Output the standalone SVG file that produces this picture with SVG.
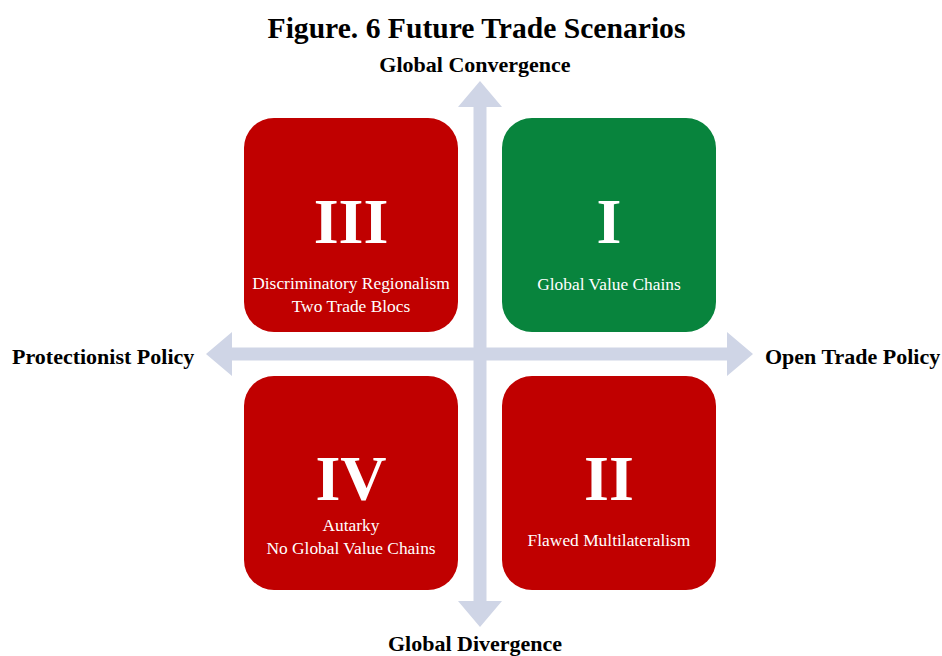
<svg xmlns="http://www.w3.org/2000/svg" width="942" height="656" viewBox="0 0 942 656">
  <style>
    .bold { font-family: "Liberation Serif", "Times New Roman", serif; font-weight: bold; fill: #000000; }
    .axis { font-size: 22px; }
    .box { stroke: none; }
    .red { fill: #C00000; }
    .green { fill: #08843D; }
    .num { font-family: "Liberation Serif", "Times New Roman", serif; font-weight: bold; font-size: 64px; fill: #FFFFFF; text-anchor: middle; }
    .desc { font-family: "Liberation Serif", "Times New Roman", serif; font-size: 17.4px; fill: #FFFFFF; text-anchor: middle; }
    .arrow { fill: #CFD5E6; }
  </style>
  <rect width="942" height="656" fill="#FFFFFF"/>

  <!-- title and axis labels -->
  <text class="bold" x="476.5" y="38" font-size="29.6" text-anchor="middle">Figure. 6 Future Trade Scenarios</text>
  <text class="bold axis" x="475" y="72" text-anchor="middle">Global Convergence</text>
  <text class="bold axis" x="475" y="651" text-anchor="middle">Global Divergence</text>
  <text class="bold axis" x="12" y="364" text-anchor="start">Protectionist Policy</text>
  <text class="bold axis" x="765" y="364" text-anchor="start">Open Trade Policy</text>

  <!-- axes: two double-headed arrows crossing at (480, 354) -->
  <g id="connectors">
    <polygon class="arrow" points="480,81 502,107 486.5,107 486.5,601 502,601 480,627 458,601 473.5,601 473.5,107 458,107"/>
    <polygon class="arrow" points="206,354 232,332 232,347.5 727,347.5 727,332 753,354 727,376 727,360.5 232,360.5 232,376"/>
  </g>

  <!-- quadrant III -->
  <g id="quadrant-III">
    <rect class="box red" x="244" y="118" width="214" height="214" rx="30" ry="30"/>
    <text class="num" x="351" y="243">III</text>
    <text class="desc" x="351" y="289">Discriminatory Regionalism</text>
    <text class="desc" x="351" y="312">Two Trade Blocs</text>
  </g>

  <!-- quadrant I -->
  <g id="quadrant-I">
    <rect class="box green" x="502" y="118" width="214" height="214" rx="30" ry="30"/>
    <text class="num" x="609" y="243">I</text>
    <text class="desc" x="609" y="290">Global Value Chains</text>
  </g>

  <!-- quadrant IV -->
  <g id="quadrant-IV">
    <rect class="box red" x="244" y="376" width="214" height="214" rx="30" ry="30"/>
    <text class="num" x="351" y="500">IV</text>
    <text class="desc" x="351" y="531">Autarky</text>
    <text class="desc" x="351" y="554">No Global Value Chains</text>
  </g>

  <!-- quadrant II -->
  <g id="quadrant-II">
    <rect class="box red" x="502" y="376" width="214" height="214" rx="30" ry="30"/>
    <text class="num" x="609" y="500">II</text>
    <text class="desc" x="609" y="546">Flawed Multilateralism</text>
  </g>
</svg>
